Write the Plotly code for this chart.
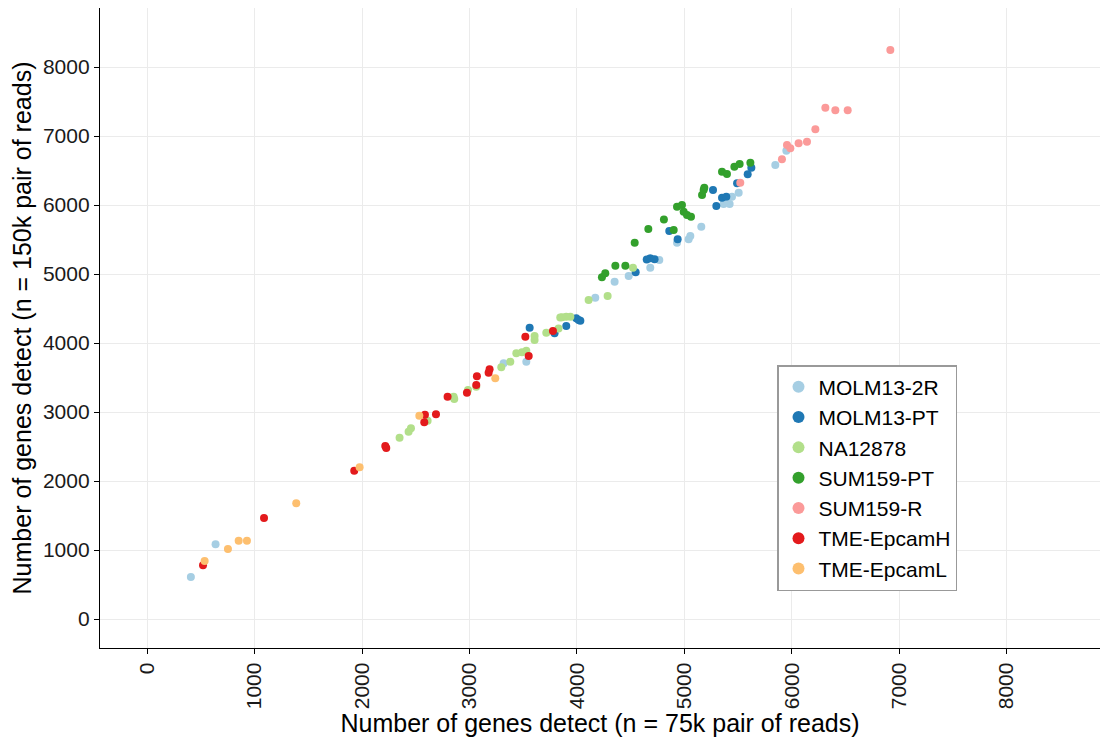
import plotly.graph_objects as go

groups = ["MOLM13-2R", "MOLM13-PT", "NA12878", "SUM159-PT", "SUM159-R", "TME-EpcamH", "TME-EpcamL"]
colors = ["#A6CEE3", "#1F78B4", "#B2DF8A", "#33A02C", "#FB9A99", "#E31A1C", "#FDBF6F"]

molm2r_x = [406, 636, 3318, 3529, 4171, 4351, 4482, 4683, 4767, 4932, 5040, 5056, 5158, 5366, 5422, 5444, 5506, 5847, 5950]
molm2r_y = [609, 1082, 3705, 3729, 4657, 4889, 4971, 5092, 5203, 5454, 5503, 5551, 5686, 6014, 6014, 6120, 6179, 6580, 6787]

molmpt_x = [3560, 3792, 3901, 3994, 4032, 4016, 4547, 4683, 4723, 4650, 4860, 4938, 5267, 5298, 5351, 5391, 5491, 5590, 5624]
molmpt_y = [4222, 4140, 4246, 4358, 4323, 4333, 5024, 5227, 5213, 5210, 5623, 5503, 6217, 5986, 6106, 6120, 6314, 6444, 6541]

na_x = [2349, 2433, 2455, 2610, 2858, 2852, 2986, 3063, 3296, 3380, 3436, 3489, 3529, 3606, 3606, 3715, 3829, 3861, 3939, 3845, 3900, 4109, 4286, 4522]
na_y = [2628, 2715, 2763, 2875, 3188, 3222, 3319, 3367, 3647, 3729, 3850, 3865, 3888, 4043, 4101, 4149, 4212, 4372, 4381, 4370, 4380, 4623, 4681, 5092]

sumpt_x = [4233, 4264, 4358, 4451, 4538, 4665, 4810, 4901, 4932, 4978, 4994, 5025, 5062, 5165, 5180, 5186, 5351, 5397, 5466, 5515, 5615]
sumpt_y = [4952, 5010, 5121, 5121, 5454, 5652, 5790, 5638, 5976, 6000, 5903, 5855, 5831, 6145, 6217, 6249, 6482, 6449, 6555, 6594, 6613]

sumr_x = [5521, 5909, 5956, 5987, 6064, 6142, 6220, 6313, 6406, 6521, 6918]
sumr_y = [6324, 6662, 6870, 6821, 6894, 6918, 7097, 7410, 7372, 7372, 8246]

epch_x = [519, 1087, 1927, 2216, 2225, 2579, 2585, 2688, 2796, 2976, 3063, 3069, 3178, 3187, 3520, 3551, 3777]
epch_y = [778, 1464, 2150, 2507, 2480, 2851, 2962, 2966, 3222, 3280, 3391, 3517, 3570, 3619, 4092, 3812, 4174]

epcl_x = [534, 751, 851, 928, 1387, 1977, 2533, 3240]
epcl_y = [840, 1014, 1135, 1135, 1676, 2198, 2947, 3488]

xs = [molm2r_x, molmpt_x, na_x, sumpt_x, sumr_x, epch_x, epcl_x]
ys = [molm2r_y, molmpt_y, na_y, sumpt_y, sumr_y, epch_y, epcl_y]

ticks = [0, 1000, 2000, 3000, 4000, 5000, 6000, 7000, 8000]

fig = go.Figure()
for g, c, x, y in zip(groups, colors, xs, ys):
    fig.add_trace(go.Scatter(x=x, y=y, mode="markers", name=g,
                             marker=dict(color=c, size=8, line=dict(width=0))))

fig.update_layout(
    width=1112, height=747,
    margin=dict(l=92, r=20, t=0, b=107),
    paper_bgcolor="white", plot_bgcolor="white",
    font=dict(family="Liberation Sans, Arial, sans-serif", size=20, color="#1a1a1a"),
    legend=dict(x=0.677, y=0.442, xanchor="left", yanchor="top",
                bordercolor="#999999", borderwidth=1.5, bgcolor="white",
                font=dict(size=21, color="black"), itemsizing="constant",
                tracegroupgap=0),
    xaxis=dict(range=[-440, 8870], tickvals=ticks, tickangle=-90, automargin=False,
               showgrid=True, gridcolor="#EBEBEB", gridwidth=1,
               zeroline=False, showline=True, linecolor="black", linewidth=1.3,
               ticks="outside", ticklen=5, tickcolor="black",
               tickfont=dict(size=21, color="#1a1a1a"),
               title=dict(text="Number of genes detect (n = 75k pair of reads)",
                          font=dict(size=25, color="black"), standoff=0)),
    yaxis=dict(range=[-420, 8855], tickvals=ticks, automargin=False,
               showgrid=True, gridcolor="#EBEBEB", gridwidth=1,
               zeroline=False, showline=True, linecolor="black", linewidth=1.3,
               ticks="outside", ticklen=5, tickcolor="black",
               tickfont=dict(size=21, color="#1a1a1a"),
               title=dict(text="Number of genes detect (n = 150k pair of reads)",
                          font=dict(size=25, color="black"), standoff=4)),
)

fig.write_html("out.html")
